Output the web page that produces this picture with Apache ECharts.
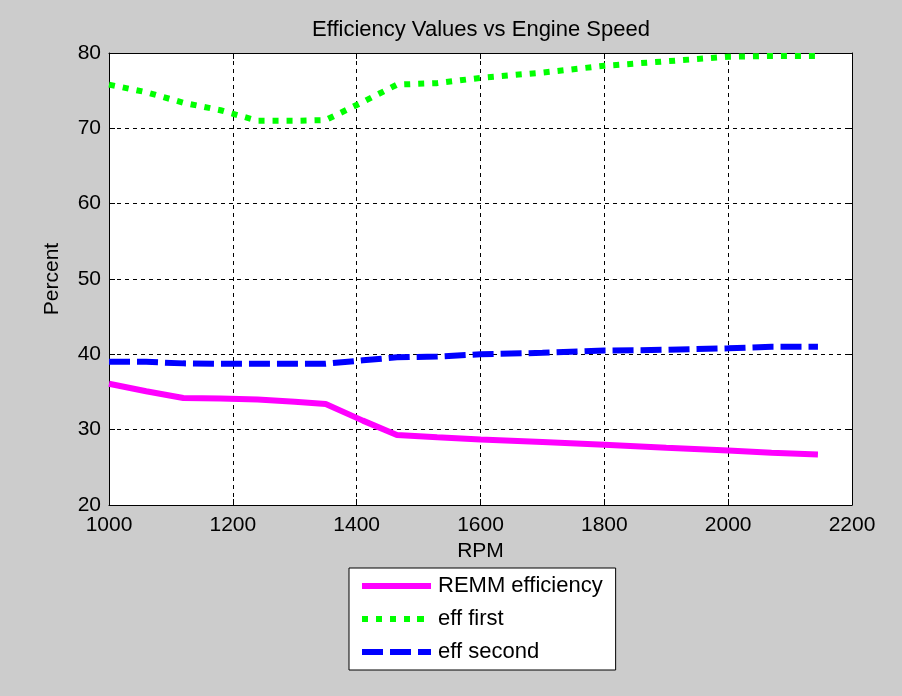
<!DOCTYPE html>
<html>
<head>
<meta charset="utf-8">
<script src="https://cdn.jsdelivr.net/npm/echarts@6/dist/echarts.min.js"></script>
<style>
html,body{margin:0;padding:0;background:#cccccc;}
#chart{width:902px;height:696px;}
</style>
</head>
<body>
<div id="chart"></div>
<script>
const rpm = [1000, 1060, 1120, 1180, 1240, 1300, 1350, 1410, 1465, 1530, 1600, 1700, 1800, 1900, 2000, 2070, 2145];
const remmEfficiency = [36.1, 35.1, 34.2, 34.15, 34.0, 33.7, 33.4, 31.2, 29.3, 29.0, 28.7, 28.35, 28.0, 27.6, 27.25, 26.95, 26.7];
const effFirst = [75.8, 74.8, 73.4, 72.4, 71.0, 71.0, 71.1, 73.5, 75.8, 76.0, 76.7, 77.4, 78.3, 78.9, 79.5, 79.6, 79.6];
const effSecond = [39.0, 39.0, 38.8, 38.75, 38.75, 38.75, 38.75, 39.2, 39.6, 39.7, 40.0, 40.2, 40.5, 40.6, 40.8, 41.0, 41.0];
const seriesNames = ['REMM efficiency', 'eff first', 'eff second'];
const xTicks = {min: 1000, max: 2200, interval: 200};
const yTicks = {min: 20, max: 80, interval: 10};

const FONT = 'Liberation Sans';
const pairs = arr => rpm.map((x, i) => [x, arr[i]]);

// legend line-sample icons (solid, dotted, dashed), 69 x 6 units
const legendIcons = [
  'path://M0,0h69v6h-69z',
  'path://M0,0h6v6h-6z M14,0h6v6h-6z M28,0h6v6h-6z M42,0h6v6h-6z M55,0h7v6h-7z M69,0L69,6',
  'path://M0,0h21v6h-21z M28,0h21v6h-21z M56,0h13v6h-13z'
];

const chart = echarts.init(document.getElementById('chart'), null, {renderer: 'canvas'});
const axisBase = {
  type: 'value',
  axisLine: {show: true, lineStyle: {color: '#000', width: 1}},
  axisTick: {show: true, inside: true, length: 6, lineStyle: {color: '#000'}},
  axisLabel: {show: false},
  splitLine: {show: false}
};
chart.setOption({
  backgroundColor: '#cccccc',
  animation: false,
  title: {
    text: 'Efficiency Values vs Engine Speed',
    left: 307, top: 14,
    textStyle: {fontFamily: FONT, fontSize: 22, fontWeight: 'normal', color: '#000'}
  },
  grid: {left: 109, right: 50, top: 53, bottom: 191, show: true, backgroundColor: '#ffffff', borderWidth: 0},
  legend: {
    orient: 'vertical',
    left: 349, top: 568,
    padding: [7, 13, 7, 13],
    itemWidth: 69, itemHeight: 6, itemGap: 11,
    symbolKeepAspect: false,
    backgroundColor: '#ffffff',
    borderColor: '#000', borderWidth: 1,
    textStyle: {fontFamily: FONT, fontSize: 22, color: '#000', padding: [0, 0, 0, 2]},
    data: seriesNames.map((n, i) => ({name: n, icon: legendIcons[i]}))
  },
  xAxis: [
    Object.assign({}, axisBase, {
      position: 'bottom', min: xTicks.min, max: xTicks.max, interval: xTicks.interval,
      axisLabel: {show: true, fontFamily: FONT, fontSize: 21, color: '#000', margin: 10, formatter: v => String(v)},
      splitLine: {show: true, lineStyle: {color: '#000', type: [4, 4], width: 1}},
      name: 'RPM', nameLocation: 'middle', nameGap: 36,
      nameTextStyle: {fontFamily: FONT, fontSize: 21, color: '#000'}
    }),
    Object.assign({}, axisBase, {position: 'top', min: xTicks.min, max: xTicks.max, interval: xTicks.interval})
  ],
  yAxis: [
    Object.assign({}, axisBase, {
      position: 'left', min: yTicks.min, max: yTicks.max, interval: yTicks.interval,
      axisLabel: {show: true, fontFamily: FONT, fontSize: 21, color: '#000', margin: 8, formatter: v => String(v)},
      splitLine: {show: true, lineStyle: {color: '#000', type: [4, 4], width: 1}},
      name: 'Percent', nameLocation: 'middle', nameGap: 46,
      nameTextStyle: {fontFamily: FONT, fontSize: 21, color: '#000'}
    }),
    Object.assign({}, axisBase, {position: 'right', min: yTicks.min, max: yTicks.max, interval: yTicks.interval})
  ],
  series: [
    {
      name: seriesNames[0], type: 'line', data: pairs(remmEfficiency), symbol: 'none',
      itemStyle: {color: '#ff00ff'},
      lineStyle: {color: '#ff00ff', width: 6, type: 'solid'}
    },
    {
      name: seriesNames[1], type: 'line', data: pairs(effFirst), symbol: 'none',
      itemStyle: {color: '#00ff00'},
      lineStyle: {color: '#00ff00', width: 6, type: [6, 8], cap: 'butt'}
    },
    {
      name: seriesNames[2], type: 'line', data: pairs(effSecond), symbol: 'none',
      itemStyle: {color: '#0000ff'},
      lineStyle: {color: '#0000ff', width: 6, type: [21, 7], cap: 'butt'}
    }
  ]
});
</script>
</body>
</html>
